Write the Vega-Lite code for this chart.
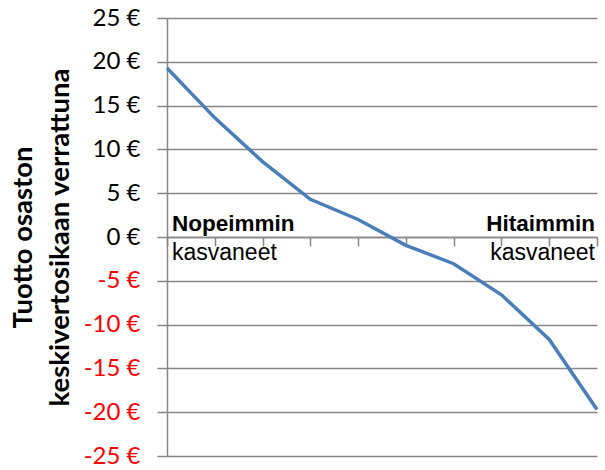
{
  "$schema": "https://vega.github.io/schema/vega-lite/v6.json",
  "autosize": "none",
  "width": 430,
  "height": 438,
  "padding": {"left": 167, "top": 18, "right": 8, "bottom": 14},
  "config": {"view": {"stroke": null}},
  "datasets": {
    "series": [
      {"rank": 1, "value": 19.3},
      {"rank": 2, "value": 13.6},
      {"rank": 3, "value": 8.6},
      {"rank": 4, "value": 4.3},
      {"rank": 5, "value": 2.0},
      {"rank": 6, "value": -0.95},
      {"rank": 7, "value": -3.05},
      {"rank": 8, "value": -6.6},
      {"rank": 9, "value": -11.7},
      {"rank": 10, "value": -19.7}
    ],
    "notes": [
      {"rank": 1, "value": 0, "side": "left", "line": "top", "label": "Nopeimmin"},
      {"rank": 1, "value": 0, "side": "left", "line": "bottom", "label": "kasvaneet"},
      {"rank": 10, "value": 0, "side": "right", "line": "top", "label": "Hitaimmin"},
      {"rank": 10, "value": 0, "side": "right", "line": "bottom", "label": "kasvaneet"}
    ]
  },
  "layer": [
    {
      "data": {"name": "series"},
      "mark": {"type": "line", "color": "#4a7ebb", "strokeWidth": 3.5},
      "encoding": {
        "x": {
          "field": "rank", "type": "quantitative",
          "scale": {"domain": [1, 10], "nice": false, "zero": false},
          "axis": {
            "values": [1, 2, 3, 4, 5, 6, 7, 8, 9, 10],
            "labels": false, "grid": false, "title": null,
            "domainColor": "#868686", "domainWidth": 1.5,
            "tickColor": "#868686", "tickSize": 9, "tickWidth": 1.5,
            "offset": -219
          }
        },
        "y": {
          "field": "value", "type": "quantitative",
          "scale": {"domain": [-25, 25], "nice": false},
          "axis": {
            "values": [-25, -20, -15, -10, -5, 0, 5, 10, 15, 20, 25],
            "labelExpr": "datum.value + ' €'",
            "labelFont": "Lato", "labelFontSize": 24,
            "labelColor": {"condition": {"test": "datum.value < 0", "value": "#ff0000"}, "value": "#000000"},
            "labelPadding": 17,
            "domainColor": "#868686", "domainWidth": 1.5,
            "tickColor": "#868686", "tickSize": 10, "tickWidth": 1.5,
            "gridColor": "#868686", "gridWidth": 1.5,
            "title": ["Tuotto osaston", "keskivertosikaan verrattuna"],
            "titleFont": "Lato", "titleFontSize": 27.5, "titleFontWeight": "bold",
            "titleColor": "#000000", "titleLineHeight": 37, "titlePadding": 9
          }
        }
      }
    },
    {
      "data": {"name": "notes"},
      "transform": [{"filter": "datum.side == 'left' && datum.line == 'top'"}],
      "mark": {"type": "text", "align": "left", "baseline": "alphabetic", "dx": 5, "dy": -6, "font": "Liberation Sans", "fontSize": 22.5, "fontWeight": "bold", "color": "#000000"},
      "encoding": {"x": {"field": "rank", "type": "quantitative"}, "y": {"field": "value", "type": "quantitative"}, "text": {"field": "label"}}
    },
    {
      "data": {"name": "notes"},
      "transform": [{"filter": "datum.side == 'left' && datum.line == 'bottom'"}],
      "mark": {"type": "text", "align": "left", "baseline": "alphabetic", "dx": 5, "dy": 23, "font": "Liberation Sans", "fontSize": 23, "color": "#000000"},
      "encoding": {"x": {"field": "rank", "type": "quantitative"}, "y": {"field": "value", "type": "quantitative"}, "text": {"field": "label"}}
    },
    {
      "data": {"name": "notes"},
      "transform": [{"filter": "datum.side == 'right' && datum.line == 'top'"}],
      "mark": {"type": "text", "align": "right", "baseline": "alphabetic", "dx": -2, "dy": -6, "font": "Liberation Sans", "fontSize": 22.5, "fontWeight": "bold", "color": "#000000"},
      "encoding": {"x": {"field": "rank", "type": "quantitative"}, "y": {"field": "value", "type": "quantitative"}, "text": {"field": "label"}}
    },
    {
      "data": {"name": "notes"},
      "transform": [{"filter": "datum.side == 'right' && datum.line == 'bottom'"}],
      "mark": {"type": "text", "align": "right", "baseline": "alphabetic", "dx": -2, "dy": 23, "font": "Liberation Sans", "fontSize": 23, "color": "#000000"},
      "encoding": {"x": {"field": "rank", "type": "quantitative"}, "y": {"field": "value", "type": "quantitative"}, "text": {"field": "label"}}
    }
  ]
}
